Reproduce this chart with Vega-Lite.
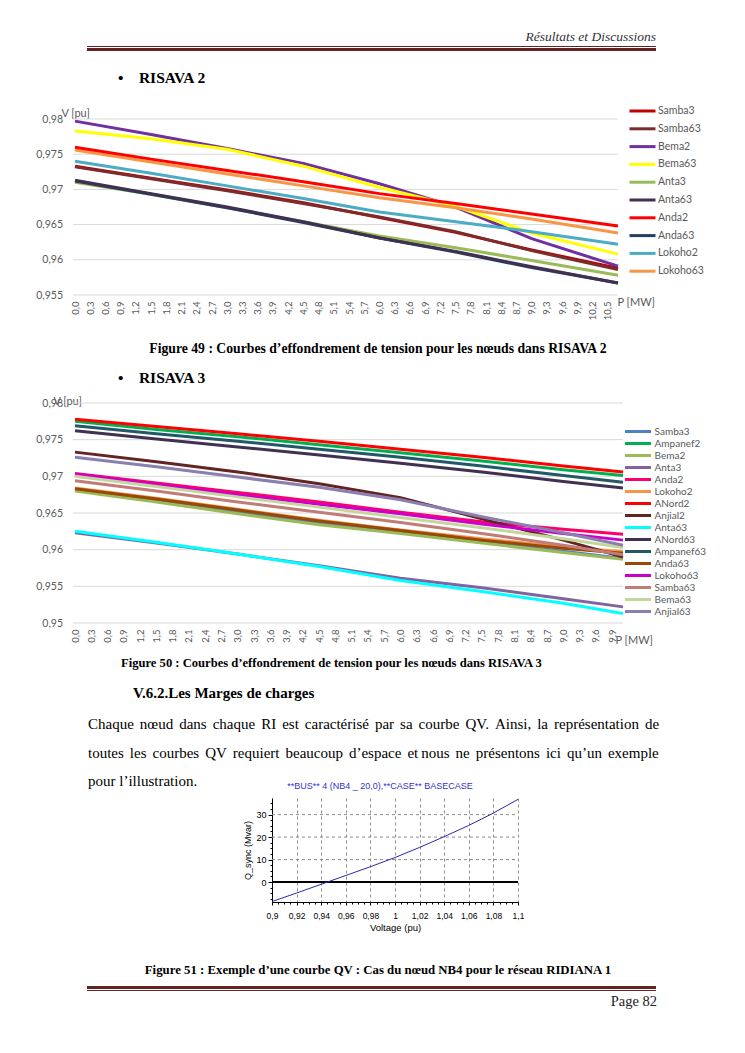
{
"$schema": "https://vega.github.io/schema/vega-lite/v6.json",
"padding": 0,
"background": "white",
"bounds": "flush",
"spacing": 0,
"resolve": {"scale": {"color": "independent"}, "legend": {"color": "independent"}},
"config": {"view": {"stroke": null}, "title": {"baseline": "top", "offset": 0, "orient": "bottom", "frame": "group", "subtitlePadding": 0, "font": "Liberation Serif", "color": "#000000", "fontWeight": "normal"}},
"datasets": {
"r2": [
{"s":"Samba3","p":0,"v":0.9733},{"s":"Samba3","p":1.5,"v":0.9716},{"s":"Samba3","p":3,"v":0.9699},{"s":"Samba3","p":4.5,"v":0.9681},{"s":"Samba3","p":6,"v":0.9660},{"s":"Samba3","p":7.5,"v":0.9639},{"s":"Samba3","p":9,"v":0.9614},{"s":"Samba3","p":10.7,"v":0.9588},
{"s":"Samba63","p":0,"v":0.9732},{"s":"Samba63","p":1.5,"v":0.9715},{"s":"Samba63","p":3,"v":0.9698},{"s":"Samba63","p":4.5,"v":0.9680},{"s":"Samba63","p":6,"v":0.9661},{"s":"Samba63","p":7.5,"v":0.9640},{"s":"Samba63","p":9,"v":0.9613},{"s":"Samba63","p":10.7,"v":0.9586},
{"s":"Bema2","p":0,"v":0.9797},{"s":"Bema2","p":1.5,"v":0.9778},{"s":"Bema2","p":3,"v":0.9758},{"s":"Bema2","p":4.5,"v":0.9737},{"s":"Bema2","p":6,"v":0.9708},{"s":"Bema2","p":7.5,"v":0.9675},{"s":"Bema2","p":9,"v":0.9630},{"s":"Bema2","p":10.7,"v":0.9591},
{"s":"Bema63","p":0,"v":0.9783},{"s":"Bema63","p":1.5,"v":0.9772},{"s":"Bema63","p":3,"v":0.9757},{"s":"Bema63","p":4.5,"v":0.9733},{"s":"Bema63","p":6,"v":0.9703},{"s":"Bema63","p":7.5,"v":0.9676},{"s":"Bema63","p":9,"v":0.9638},{"s":"Bema63","p":10.7,"v":0.9608},
{"s":"Anta3","p":0,"v":0.9710},{"s":"Anta3","p":1.5,"v":0.9693},{"s":"Anta3","p":3,"v":0.9674},{"s":"Anta3","p":4.5,"v":0.9654},{"s":"Anta3","p":6,"v":0.9634},{"s":"Anta3","p":7.5,"v":0.9617},{"s":"Anta3","p":9,"v":0.9599},{"s":"Anta3","p":10.7,"v":0.9578},
{"s":"Anda63","p":0,"v":0.9712},{"s":"Anda63","p":1.5,"v":0.9693},{"s":"Anda63","p":3,"v":0.9674},{"s":"Anda63","p":4.5,"v":0.9653},{"s":"Anda63","p":6,"v":0.9631},{"s":"Anda63","p":7.5,"v":0.9611},{"s":"Anda63","p":9,"v":0.9589},{"s":"Anda63","p":10.7,"v":0.9567},
{"s":"Anta63","p":0,"v":0.9713},{"s":"Anta63","p":1.5,"v":0.9694},{"s":"Anta63","p":3,"v":0.9675},{"s":"Anta63","p":4.5,"v":0.9654},{"s":"Anta63","p":6,"v":0.9631},{"s":"Anta63","p":7.5,"v":0.9612},{"s":"Anta63","p":9,"v":0.9590},{"s":"Anta63","p":10.7,"v":0.9567},
{"s":"Lokoho2","p":0,"v":0.9740},{"s":"Lokoho2","p":1.5,"v":0.9723},{"s":"Lokoho2","p":3,"v":0.9705},{"s":"Lokoho2","p":4.5,"v":0.9687},{"s":"Lokoho2","p":6,"v":0.9668},{"s":"Lokoho2","p":7.5,"v":0.9654},{"s":"Lokoho2","p":9,"v":0.9640},{"s":"Lokoho2","p":10.7,"v":0.9622},
{"s":"Lokoho63","p":0,"v":0.9756},{"s":"Lokoho63","p":1.5,"v":0.9739},{"s":"Lokoho63","p":3,"v":0.9722},{"s":"Lokoho63","p":4.5,"v":0.9705},{"s":"Lokoho63","p":6,"v":0.9688},{"s":"Lokoho63","p":7.5,"v":0.9674},{"s":"Lokoho63","p":9,"v":0.9658},{"s":"Lokoho63","p":10.7,"v":0.9638},
{"s":"Anda2","p":0,"v":0.9760},{"s":"Anda2","p":1.5,"v":0.9743},{"s":"Anda2","p":3,"v":0.9727},{"s":"Anda2","p":4.5,"v":0.9711},{"s":"Anda2","p":6,"v":0.9694},{"s":"Anda2","p":7.5,"v":0.9680},{"s":"Anda2","p":9,"v":0.9665},{"s":"Anda2","p":10.7,"v":0.9648}
],
"r3": [
{"s":"Samba3","p":0,"v":0.9681},{"s":"Samba3","p":1.5,"v":0.9667},{"s":"Samba3","p":3,"v":0.9652},{"s":"Samba3","p":4.5,"v":0.9637},{"s":"Samba3","p":6,"v":0.9625},{"s":"Samba3","p":7.5,"v":0.9611},{"s":"Samba3","p":9,"v":0.9598},{"s":"Samba3","p":10.1,"v":0.9588},
{"s":"Ampanef2","p":0,"v":0.9775},{"s":"Ampanef2","p":1.5,"v":0.9764},{"s":"Ampanef2","p":3,"v":0.9754},{"s":"Ampanef2","p":4.5,"v":0.9743},{"s":"Ampanef2","p":6,"v":0.9732},{"s":"Ampanef2","p":7.5,"v":0.9721},{"s":"Ampanef2","p":9,"v":0.9709},{"s":"Ampanef2","p":10.1,"v":0.9701},
{"s":"Bema2","p":0,"v":0.9680},{"s":"Bema2","p":1.5,"v":0.9665},{"s":"Bema2","p":3,"v":0.9649},{"s":"Bema2","p":4.5,"v":0.9634},{"s":"Bema2","p":6,"v":0.9622},{"s":"Bema2","p":7.5,"v":0.9609},{"s":"Bema2","p":9,"v":0.9596},{"s":"Bema2","p":10.1,"v":0.9587},
{"s":"Anta3","p":0,"v":0.9623},{"s":"Anta3","p":1.5,"v":0.9609},{"s":"Anta3","p":3,"v":0.9594},{"s":"Anta3","p":4.5,"v":0.9578},{"s":"Anta3","p":6,"v":0.9561},{"s":"Anta3","p":7.5,"v":0.9548},{"s":"Anta3","p":9,"v":0.9533},{"s":"Anta3","p":10.1,"v":0.9522},
{"s":"Anda2","p":0,"v":0.9704},{"s":"Anda2","p":1.5,"v":0.9691},{"s":"Anda2","p":3,"v":0.9678},{"s":"Anda2","p":4.5,"v":0.9665},{"s":"Anda2","p":6,"v":0.9651},{"s":"Anda2","p":7.5,"v":0.9638},{"s":"Anda2","p":9,"v":0.9628},{"s":"Anda2","p":10.1,"v":0.9621},
{"s":"Lokoho2","p":0,"v":0.9684},{"s":"Lokoho2","p":1.5,"v":0.9670},{"s":"Lokoho2","p":3,"v":0.9655},{"s":"Lokoho2","p":4.5,"v":0.9640},{"s":"Lokoho2","p":6,"v":0.9627},{"s":"Lokoho2","p":7.5,"v":0.9615},{"s":"Lokoho2","p":9,"v":0.9604},{"s":"Lokoho2","p":10.1,"v":0.9597},
{"s":"ANord2","p":0,"v":0.9778},{"s":"ANord2","p":1.5,"v":0.9768},{"s":"ANord2","p":3,"v":0.9758},{"s":"ANord2","p":4.5,"v":0.9748},{"s":"ANord2","p":6,"v":0.9737},{"s":"ANord2","p":7.5,"v":0.9726},{"s":"ANord2","p":9,"v":0.9714},{"s":"ANord2","p":10.1,"v":0.9706},
{"s":"Anjial2","p":0,"v":0.9733},{"s":"Anjial2","p":1.5,"v":0.9720},{"s":"Anjial2","p":3,"v":0.9706},{"s":"Anjial2","p":4.5,"v":0.9690},{"s":"Anjial2","p":6,"v":0.9671},{"s":"Anjial2","p":7.5,"v":0.9642},{"s":"Anjial2","p":9,"v":0.9613},{"s":"Anjial2","p":10.1,"v":0.9590},
{"s":"Anta63","p":0,"v":0.9625},{"s":"Anta63","p":1.5,"v":0.9610},{"s":"Anta63","p":3,"v":0.9594},{"s":"Anta63","p":4.5,"v":0.9577},{"s":"Anta63","p":6,"v":0.9558},{"s":"Anta63","p":7.5,"v":0.9543},{"s":"Anta63","p":9,"v":0.9527},{"s":"Anta63","p":10.1,"v":0.9513},
{"s":"ANord63","p":0,"v":0.9762},{"s":"ANord63","p":1.5,"v":0.9751},{"s":"ANord63","p":3,"v":0.9740},{"s":"ANord63","p":4.5,"v":0.9729},{"s":"ANord63","p":6,"v":0.9718},{"s":"ANord63","p":7.5,"v":0.9706},{"s":"ANord63","p":9,"v":0.9693},{"s":"ANord63","p":10.1,"v":0.9684},
{"s":"Ampanef63","p":0,"v":0.9769},{"s":"Ampanef63","p":1.5,"v":0.9758},{"s":"Ampanef63","p":3,"v":0.9748},{"s":"Ampanef63","p":4.5,"v":0.9737},{"s":"Ampanef63","p":6,"v":0.9726},{"s":"Ampanef63","p":7.5,"v":0.9714},{"s":"Ampanef63","p":9,"v":0.9701},{"s":"Ampanef63","p":10.1,"v":0.9692},
{"s":"Anda63","p":0,"v":0.9683},{"s":"Anda63","p":1.5,"v":0.9669},{"s":"Anda63","p":3,"v":0.9654},{"s":"Anda63","p":4.5,"v":0.9639},{"s":"Anda63","p":6,"v":0.9626},{"s":"Anda63","p":7.5,"v":0.9613},{"s":"Anda63","p":9,"v":0.9602},{"s":"Anda63","p":10.1,"v":0.9595},
{"s":"Lokoho63","p":0,"v":0.9703},{"s":"Lokoho63","p":1.5,"v":0.9689},{"s":"Lokoho63","p":3,"v":0.9675},{"s":"Lokoho63","p":4.5,"v":0.9662},{"s":"Lokoho63","p":6,"v":0.9649},{"s":"Lokoho63","p":7.5,"v":0.9635},{"s":"Lokoho63","p":9,"v":0.9622},{"s":"Lokoho63","p":10.1,"v":0.9613},
{"s":"Samba63","p":0,"v":0.9694},{"s":"Samba63","p":1.5,"v":0.9680},{"s":"Samba63","p":3,"v":0.9665},{"s":"Samba63","p":4.5,"v":0.9651},{"s":"Samba63","p":6,"v":0.9637},{"s":"Samba63","p":7.5,"v":0.9622},{"s":"Samba63","p":9,"v":0.9606},{"s":"Samba63","p":10.1,"v":0.9593},
{"s":"Bema63","p":0,"v":0.9700},{"s":"Bema63","p":1.5,"v":0.9686},{"s":"Bema63","p":3,"v":0.9672},{"s":"Bema63","p":4.5,"v":0.9658},{"s":"Bema63","p":6,"v":0.9644},{"s":"Bema63","p":7.5,"v":0.9630},{"s":"Bema63","p":9,"v":0.9615},{"s":"Bema63","p":10.1,"v":0.9603},
{"s":"Anjial63","p":0,"v":0.9726},{"s":"Anjial63","p":1.5,"v":0.9713},{"s":"Anjial63","p":3,"v":0.9699},{"s":"Anjial63","p":4.5,"v":0.9685},{"s":"Anjial63","p":6,"v":0.9668},{"s":"Anjial63","p":7.5,"v":0.9645},{"s":"Anjial63","p":9,"v":0.9623},{"s":"Anjial63","p":10.1,"v":0.9606}
],
"qv": [
{"u":0.9,"q":-8.7},{"u":0.92,"q":-4.9},{"u":0.94,"q":-1.0},{"u":0.96,"q":2.9},{"u":0.98,"q":6.8},{"u":1.0,"q":10.9},{"u":1.02,"q":15.4},{"u":1.04,"q":20.2},{"u":1.06,"q":25.2},{"u":1.08,"q":30.7},{"u":1.1,"q":36.8}
]
},
"vconcat": [
{"width": 745, "height": 26, "view": {"fill": "white", "stroke": null}, "data": {"values": [{}]}, "mark": "text", "encoding": {"text": {"value": ""}},
 "title": {"text": "Résultats et Discussions", "anchor": "end", "dx": -89, "fontSize": 13.5, "fontStyle": "italic", "color": "#333333"}},
{"width": 745, "height": 20, "data": {"values": [{}]}, "mark": "text", "encoding": {"text": {"value": ""}}},
{"width": 745, "height": 1, "data": {"values": [{}]}, "mark": {"type": "rect", "color": "#622423"}, "encoding": {"x": {"datum": 0, "type": "quantitative", "scale": {"domain": [0, 1], "range": [87, 656]}, "axis": null}, "x2": {"datum": 1}}},
{"width": 745, "height": 1, "data": {"values": [{}]}, "mark": "text", "encoding": {"text": {"value": ""}}},
{"width": 745, "height": 3, "data": {"values": [{}]}, "mark": {"type": "rect", "color": "#622423"}, "encoding": {"x": {"datum": 0, "type": "quantitative", "scale": {"domain": [0, 1], "range": [87, 656]}, "axis": null}, "x2": {"datum": 1}}},
{"width": 745, "height": 16, "data": {"values": [{}]}, "mark": "text", "encoding": {"text": {"value": ""}},
 "title": {"text": "•\u2002\u00a0\u00a0RISAVA 2", "anchor": "start", "dx": 118, "fontSize": 15.5, "fontWeight": "bold"}},
{"width": 745, "height": 52, "data": {"values": [{}]}, "mark": "text", "encoding": {"text": {"value": ""}}},
{"width": 745, "height": 176,
 "layer": [
  {"data": {"values": [{"g":0.955},{"g":0.96},{"g":0.965},{"g":0.97},{"g":0.975},{"g":0.98}]},
   "mark": {"type": "rule", "color": "#d9d9d9", "strokeWidth": 1},
   "encoding": {
    "y": {"field": "g", "type": "quantitative", "scale": {"domain": [0.955, 0.98], "nice": false, "zero": false},
      "axis": {"offset": -65, "values": [0.955,0.96,0.965,0.97,0.975,0.98], "labelExpr": "replace(format(datum.value,'~g'),'.',',')", "domain": false, "ticks": false, "grid": false, "labelPadding": 2.5, "labelFont": "Lato", "labelFontSize": 10.5, "labelColor": "#595959", "title": "V [pu]", "titleAngle": 0, "titleAlign": "left", "titleBaseline": "middle", "titleX": -4, "titleY": -6, "titleFont": "Lato", "titleFontSize": 11, "titleFontWeight": "normal", "titleColor": "#595959"}},
    "x": {"datum": -0.04, "type": "quantitative", "scale": {"domain": [0, 10.7], "range": [75, 618], "nice": false, "zero": false},
      "axis": {"values": [0,0.3,0.6,0.9,1.2,1.5,1.8,2.1,2.4,2.7,3,3.3,3.6,3.9,4.2,4.5,4.8,5.1,5.4,5.7,6,6.3,6.6,6.9,7.2,7.5,7.8,8.1,8.4,8.7,9,9.3,9.6,9.9,10.2,10.5], "labelExpr": "replace(format(datum.value,'.1f'),'.',',')", "labelAngle": -90, "labelOverlap": false, "labelFlush": false, "domain": false, "ticks": false, "grid": false, "labelPadding": 6, "labelFont": "Lato", "labelFontSize": 9.5, "labelColor": "#595959", "title": "P [MW]", "titleX": 617, "titleY": 7, "titleAlign": "left", "titleBaseline": "middle", "titleFont": "Lato", "titleFontSize": 11, "titleFontWeight": "normal", "titleColor": "#595959"}},
    "x2": {"datum": 10.7}
   }},
  {"data": {"name": "r2"},
   "mark": {"type": "line", "strokeWidth": 3},
   "encoding": {
    "x": {"field": "p", "type": "quantitative", "scale": {"domain": [0, 10.7], "range": [75, 618], "nice": false, "zero": false},
      "axis": {"values": [0,0.3,0.6,0.9,1.2,1.5,1.8,2.1,2.4,2.7,3,3.3,3.6,3.9,4.2,4.5,4.8,5.1,5.4,5.7,6,6.3,6.6,6.9,7.2,7.5,7.8,8.1,8.4,8.7,9,9.3,9.6,9.9,10.2,10.5], "labelExpr": "replace(format(datum.value,'.1f'),'.',',')", "labelAngle": -90, "labelOverlap": false, "labelFlush": false, "domain": false, "ticks": false, "grid": false, "labelPadding": 6, "labelFont": "Lato", "labelFontSize": 9.5, "labelColor": "#595959", "title": "P [MW]", "titleX": 617, "titleY": 7, "titleAlign": "left", "titleBaseline": "middle", "titleFont": "Lato", "titleFontSize": 11, "titleFontWeight": "normal", "titleColor": "#595959"}},
    "y": {"field": "v", "type": "quantitative", "scale": {"domain": [0.955, 0.98], "nice": false, "zero": false},
      "axis": {"offset": -65, "values": [0.955,0.96,0.965,0.97,0.975,0.98], "labelExpr": "replace(format(datum.value,'~g'),'.',',')", "domain": false, "ticks": false, "grid": false, "labelPadding": 2.5, "labelFont": "Lato", "labelFontSize": 10.5, "labelColor": "#595959", "title": "V [pu]", "titleAngle": 0, "titleAlign": "left", "titleBaseline": "middle", "titleX": -4, "titleY": -6, "titleFont": "Lato", "titleFontSize": 11, "titleFontWeight": "normal", "titleColor": "#595959"}},
    "color": {"field": "s", "type": "nominal",
      "scale": {"domain": ["Samba3","Samba63","Bema2","Bema63","Anta3","Anta63","Anda2","Anda63","Lokoho2","Lokoho63"],
                "range": ["#C00000","#7B2C2C","#7030A0","#FFFF00","#9BBB59","#403152","#FF0000","#243F60","#4BACC6","#F79646"]},
      "legend": {"orient": "none", "legendX": 636, "legendY": -14.5, "title": null, "symbolType": "M-2.6,0H2.6", "symbolSize": 100, "symbolStrokeWidth": 3, "labelFont": "Lato", "labelFontSize": 10.5, "labelColor": "#595959", "labelOffset": 9, "rowPadding": 4.8, "padding": 0}}
   }}
 ]},
{"width": 745, "height": 43, "data": {"values": [{}]}, "mark": "text", "encoding": {"text": {"value": ""}},
 "title": {"text": "Figure 49 : Courbes d’effondrement de tension pour les nœuds dans RISAVA 2", "anchor": "middle", "dx": 5.5, "fontSize": 13.7, "fontWeight": "bold"}},
{"width": 745, "height": 29, "data": {"values": [{}]}, "mark": "text", "encoding": {"text": {"value": ""}},
 "title": {"text": "•\u2002\u00a0\u00a0RISAVA 3", "anchor": "start", "dx": 118, "fontSize": 15.5, "fontWeight": "bold"}},
{"width": 745, "height": 36, "data": {"values": [{}]}, "mark": "text", "encoding": {"text": {"value": ""}}},
{"width": 745, "height": 220,
 "layer": [
  {"data": {"values": [{"g":0.95},{"g":0.955},{"g":0.96},{"g":0.965},{"g":0.97},{"g":0.975},{"g":0.98}]},
   "mark": {"type": "rule", "color": "#d9d9d9", "strokeWidth": 1},
   "encoding": {
    "y": {"field": "g", "type": "quantitative", "scale": {"domain": [0.95, 0.98], "nice": false, "zero": false},
      "axis": {"offset": -65, "values": [0.95,0.955,0.96,0.965,0.97,0.975,0.98], "labelExpr": "replace(format(datum.value,'~g'),'.',',')", "domain": false, "ticks": false, "grid": false, "labelPadding": 2.5, "labelFont": "Lato", "labelFontSize": 10.5, "labelColor": "#595959", "title": "V [pu]", "titleAngle": 0, "titleAlign": "left", "titleBaseline": "middle", "titleX": -12, "titleY": -2, "titleFont": "Lato", "titleFontSize": 11, "titleFontWeight": "normal", "titleColor": "#595959"}},
    "x": {"datum": -0.04, "type": "quantitative", "scale": {"domain": [0, 10.1], "range": [75, 623], "nice": false, "zero": false},
      "axis": {"values": [0,0.3,0.6,0.9,1.2,1.5,1.8,2.1,2.4,2.7,3,3.3,3.6,3.9,4.2,4.5,4.8,5.1,5.4,5.7,6,6.3,6.6,6.9,7.2,7.5,7.8,8.1,8.4,8.7,9,9.3,9.6,9.9], "labelExpr": "replace(format(datum.value,'.1f'),'.',',')", "labelAngle": -90, "labelOverlap": false, "labelFlush": false, "domain": false, "ticks": false, "grid": false, "labelPadding": 6, "labelFont": "Lato", "labelFontSize": 9.5, "labelColor": "#595959", "title": "P [MW]", "titleX": 615, "titleY": 17, "titleAlign": "left", "titleBaseline": "middle", "titleFont": "Lato", "titleFontSize": 11, "titleFontWeight": "normal", "titleColor": "#595959"}},
    "x2": {"datum": 10.1}
   }},
  {"data": {"name": "r3"},
   "mark": {"type": "line", "strokeWidth": 3},
   "encoding": {
    "x": {"field": "p", "type": "quantitative", "scale": {"domain": [0, 10.1], "range": [75, 623], "nice": false, "zero": false},
      "axis": {"values": [0,0.3,0.6,0.9,1.2,1.5,1.8,2.1,2.4,2.7,3,3.3,3.6,3.9,4.2,4.5,4.8,5.1,5.4,5.7,6,6.3,6.6,6.9,7.2,7.5,7.8,8.1,8.4,8.7,9,9.3,9.6,9.9], "labelExpr": "replace(format(datum.value,'.1f'),'.',',')", "labelAngle": -90, "labelOverlap": false, "labelFlush": false, "domain": false, "ticks": false, "grid": false, "labelPadding": 6, "labelFont": "Lato", "labelFontSize": 9.5, "labelColor": "#595959", "title": "P [MW]", "titleX": 615, "titleY": 17, "titleAlign": "left", "titleBaseline": "middle", "titleFont": "Lato", "titleFontSize": 11, "titleFontWeight": "normal", "titleColor": "#595959"}},
    "y": {"field": "v", "type": "quantitative", "scale": {"domain": [0.95, 0.98], "nice": false, "zero": false},
      "axis": {"offset": -65, "values": [0.95,0.955,0.96,0.965,0.97,0.975,0.98], "labelExpr": "replace(format(datum.value,'~g'),'.',',')", "domain": false, "ticks": false, "grid": false, "labelPadding": 2.5, "labelFont": "Lato", "labelFontSize": 10.5, "labelColor": "#595959", "title": "V [pu]", "titleAngle": 0, "titleAlign": "left", "titleBaseline": "middle", "titleX": -12, "titleY": -2, "titleFont": "Lato", "titleFontSize": 11, "titleFontWeight": "normal", "titleColor": "#595959"}},
    "color": {"field": "s", "type": "nominal",
      "scale": {"domain": ["Samba3","Ampanef2","Bema2","Anta3","Anda2","Lokoho2","ANord2","Anjial2","Anta63","ANord63","Ampanef63","Anda63","Lokoho63","Samba63","Bema63","Anjial63"],
                "range": ["#4F81BD","#00B050","#9BBB59","#8064A2","#FF0066","#F79646","#FF0000","#632523","#00FFFF","#403152","#215968","#984807","#CC00CC","#C27B76","#C3D69B","#8B7FB0"]},
      "legend": {"orient": "none", "legendX": 632, "legendY": 22.5, "title": null, "symbolType": "M-2.89,0H2.89", "symbolSize": 81, "symbolStrokeWidth": 3, "labelFont": "Lato", "labelFontSize": 10, "labelColor": "#595959", "labelOffset": 10.6, "rowPadding": 0, "padding": 0}}
   }}
 ]},
{"width": 745, "height": 30, "data": {"values": [{}]}, "mark": "text", "encoding": {"text": {"value": ""}},
 "title": {"text": "Figure 50 : Courbes d’effondrement de tension pour les nœuds dans RISAVA 3", "anchor": "start", "dx": 121, "fontSize": 12.6, "fontWeight": "bold"}},
{"width": 745, "height": 29, "data": {"values": [{}]}, "mark": "text", "encoding": {"text": {"value": ""}},
 "title": {"text": "V.6.2.Les Marges de charges", "anchor": "start", "dx": 133, "fontSize": 15, "fontWeight": "bold"}},
{"width": 745, "height": 31, "data": {"values": [{}]}, "mark": "text", "encoding": {"text": {"value": ""}},
 "title": {"text": ["Chaque\u2009\u2009nœud\u2009\u2009dans\u2009\u2009chaque\u2009\u2009RI\u2009\u2009est\u2009\u2009caractérisé\u2009\u2009par\u2009\u2009sa\u2009\u2009courbe\u2009\u2009QV.\u2009\u2009Ainsi,\u2009\u2009la\u2009\u2009représentation\u2009\u2009de", "toutes\u2009\u2009les\u2009\u2009courbes\u2009\u2009QV\u2009\u2009requiert\u2009\u2009beaucoup\u2009\u2009d’espace\u2009\u2009et\u2009nous\u2009\u2009ne\u2009\u2009présentons\u2009\u2009ici\u2009\u2009qu’un\u2009\u2009exemple", "pour l’illustration."], "anchor": "start", "dx": 88, "fontSize": 15, "lineHeight": 28.7}},
{"width": 745, "height": 85, "data": {"values": [{}]}, "mark": "text", "encoding": {"text": {"value": ""}}},
{"width": 745, "height": 104,
 "title": {"text": "**BUS** 4 (NB4 _ 20,0),**CASE** BASECASE", "orient": "top", "anchor": "middle", "dx": 7.5, "offset": 6, "font": "Liberation Sans", "fontSize": 9, "color": "#3333cc"},
 "resolve": {"axis": {"x": "independent", "y": "independent"}},
 "layer": [
  {"data": {"values": [{"q":10},{"q":20},{"q":30}]},
   "mark": {"type": "rule", "color": "#8c8c8c", "strokeWidth": 1, "strokeDash": [3, 3]},
   "encoding": {
    "y": {"field": "q", "type": "quantitative", "scale": {"domain": [-8.9, 37.4], "nice": false, "zero": false},
      "axis": {"orient": "left", "offset": -272, "values": [0,10,20,30], "labelOverlap": false, "domain": true, "domainColor": "#000000", "domainWidth": 1, "ticks": true, "tickColor": "#000000", "tickSize": 4, "grid": false, "labelPadding": 2, "labelFont": "Liberation Sans", "labelFontSize": 9, "labelColor": "#000000", "title": "Q_sync (Mvar)", "titleFont": "Liberation Sans", "titleFontSize": 9, "titleFontWeight": "normal", "titleColor": "#000000", "titlePadding": 3}},
    "x": {"datum": 0.9, "type": "quantitative", "scale": {"domain": [0.9, 1.1], "range": [272, 518], "nice": false, "zero": false},
      "axis": {"orient": "bottom", "values": [0.9,0.92,0.94,0.96,0.98,1,1.02,1.04,1.06,1.08,1.1], "labelExpr": "replace(format(datum.value,'~g'),'.',',')", "domain": true, "domainColor": "#000000", "ticks": true, "tickColor": "#000000", "tickSize": 3, "grid": true, "gridColor": "#8c8c8c", "gridDash": [3, 3], "labelPadding": 6, "labelFont": "Liberation Sans", "labelFontSize": 8.5, "labelColor": "#000000", "labelFlush": false, "labelOverlap": false, "title": "Voltage (pu)", "titleFont": "Liberation Sans", "titleFontSize": 9.5, "titleFontWeight": "normal", "titleColor": "#000000", "titlePadding": 3}},
    "x2": {"datum": 1.1}
   }},
  {"data": {"values": [{}]},
   "mark": {"type": "rule", "color": "#000000", "strokeWidth": 2},
   "encoding": {
    "y": {"datum": 0, "type": "quantitative",
      "axis": {"orient": "left", "offset": -272, "values": [-7.5,-5,-2.5,2.5,5,7.5,12.5,15,17.5,22.5,25,27.5,32.5,35], "labels": false, "domain": false, "ticks": true, "tickColor": "#000000", "tickSize": 2, "grid": false, "title": null}},
    "x": {"datum": 0.9, "type": "quantitative",
      "axis": {"orient": "bottom", "values": [0.905,0.91,0.915,0.925,0.93,0.935,0.945,0.95,0.955,0.965,0.97,0.975,0.985,0.99,0.995,1.005,1.01,1.015,1.025,1.03,1.035,1.045,1.05,1.055,1.065,1.07,1.075,1.085,1.09,1.095], "labels": false, "domain": false, "ticks": true, "tickColor": "#000000", "tickSize": 2, "grid": false, "title": null}},
    "x2": {"datum": 1.1}
   }},
  {"data": {"name": "qv"},
   "mark": {"type": "line", "color": "#2a2aa8", "strokeWidth": 1},
   "encoding": {
    "x": {"field": "u", "type": "quantitative", "axis": null},
    "y": {"field": "q", "type": "quantitative", "axis": null}
   }}
 ]},
{"width": 745, "height": 58, "data": {"values": [{}]}, "mark": "text", "encoding": {"text": {"value": ""}},
 "title": {"text": "Figure 51 : Exemple d’une courbe QV : Cas du nœud NB4 pour le réseau RIDIANA 1", "anchor": "middle", "dx": 5.5, "fontSize": 12.8, "fontWeight": "bold"}},
{"width": 745, "height": 26, "data": {"values": [{}]}, "mark": "text", "encoding": {"text": {"value": ""}}},
{"width": 745, "height": 3, "data": {"values": [{}]}, "mark": {"type": "rect", "color": "#622423"}, "encoding": {"x": {"datum": 0, "type": "quantitative", "scale": {"domain": [0, 1], "range": [87, 656]}, "axis": null}, "x2": {"datum": 1}}},
{"width": 745, "height": 1, "data": {"values": [{}]}, "mark": "text", "encoding": {"text": {"value": ""}}},
{"width": 745, "height": 1, "data": {"values": [{}]}, "mark": {"type": "rect", "color": "#622423"}, "encoding": {"x": {"datum": 0, "type": "quantitative", "scale": {"domain": [0, 1], "range": [87, 656]}, "axis": null}, "x2": {"datum": 1}},
 "title": {"text": "Page 82", "anchor": "end", "dx": -88, "fontSize": 14.5, "color": "#222222"}},
{"width": 745, "height": 62, "data": {"values": [{}]}, "mark": "text", "encoding": {"text": {"value": ""}}}
]
}
